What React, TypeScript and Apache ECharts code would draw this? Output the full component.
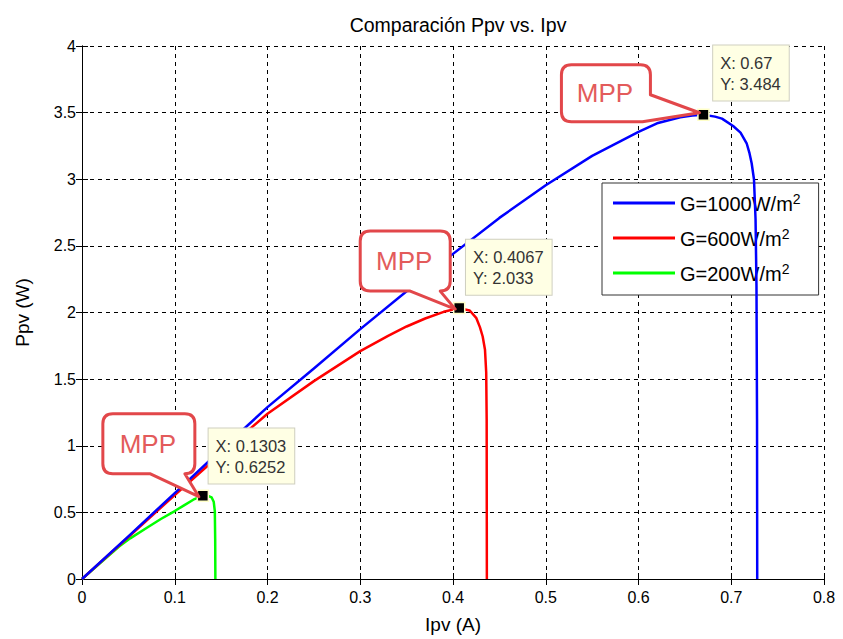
import React, { useEffect, useRef } from "react";
import * as echarts from "echarts";

// ---- data ----
const ipv1000 = [0, 0.05, 0.1, 0.15, 0.2, 0.25, 0.3, 0.35, 0.4, 0.45, 0.5, 0.55, 0.6, 0.62, 0.645, 0.658, 0.67, 0.6825, 0.69, 0.702, 0.71, 0.7166, 0.7195, 0.722, 0.7245, 0.7262, 0.7272, 0.7278, 0.728];
const ppv1000 = [0, 0.32, 0.645, 0.97, 1.29, 1.58, 1.875, 2.16, 2.44, 2.71, 2.955, 3.175, 3.355, 3.42, 3.465, 3.478, 3.484, 3.47, 3.455, 3.4, 3.35, 3.27, 3.2, 3.12, 3.0, 2.7, 2.2, 1.2, 0];

const ipv600 = [0, 0.05, 0.1, 0.15, 0.2, 0.25, 0.3, 0.33, 0.35, 0.37, 0.39, 0.4067, 0.418, 0.425, 0.429, 0.432, 0.4345, 0.4358, 0.4363, 0.4365];
const ppv600 = [0, 0.315, 0.63, 0.94, 1.24, 1.485, 1.71, 1.825, 1.895, 1.955, 2.005, 2.033, 2.015, 1.96, 1.89, 1.82, 1.72, 1.55, 1.2, 0];

const ipv200 = [0, 0.02, 0.04, 0.052, 0.07, 0.085, 0.1, 0.11, 0.12, 0.1303, 0.136, 0.1398, 0.142, 0.1432, 0.1436, 0.1438];
const ppv200 = [0, 0.122, 0.243, 0.305, 0.385, 0.45, 0.51, 0.553, 0.595, 0.6252, 0.623, 0.612, 0.58, 0.51, 0.3, 0];

const seriesNames = ["G=1000W/m2", "G=600W/m2", "G=200W/m2"];
const legendMain = ["G=1000W/m", "G=600W/m", "G=200W/m"];
const mppI = [0.67, 0.4067, 0.1303];
const mppP = [3.484, 2.033, 0.6252];
const mppXText = ["0.67", "0.4067", "0.1303"];
const mppYText = ["3.484", "2.033", "0.6252"];
const calloutText = "MPP";

const FONT = "'Liberation Sans', Arial, Helvetica, sans-serif";
const colors = ["#0000FF", "#FF0000", "#00FF00"];

const zip = (a: number[], b: number[]) => a.map((v, i) => [v, b[i]]);

// datatip offsets (relative to marker box top-left)
const tipPos = [[16, -63], [13, -62], [12, -61]];

export default function App() {
  const ref = useRef<HTMLDivElement>(null);
  useEffect(() => {
    if (!ref.current) return;
    const chart = echarts.init(ref.current, null, { renderer: "svg" });
    const axisCommon = {
      min: 0,
      axisLine: { show: true, lineStyle: { color: "#000", width: 1 } },
      axisTick: { show: true, inside: true, length: 6, lineStyle: { color: "#000" } },
    };
    const dataSets = [zip(ipv1000, ppv1000), zip(ipv600, ppv600), zip(ipv200, ppv200)];
    const series: any[] = dataSets.map((d, i) => ({
      type: "line",
      name: seriesNames[i],
      data: d,
      symbol: "none",
      showSymbol: false,
      lineStyle: { color: colors[i], width: 2.5, join: "round" },
      itemStyle: { color: colors[i] },
      z: 3 + (2 - i),
      markPoint: {
        symbol: "rect",
        symbolSize: 11,
        z: 10,
        itemStyle: { color: "#000", borderColor: "#FFFFC8", borderWidth: 1.5 },
        data: [
          {
            coord: [mppI[i], mppP[i]],
            label: {
              show: true,
              position: tipPos[i],
              formatter: `X: ${mppXText[i]}\nY: ${mppYText[i]}`,
              fontFamily: FONT,
              fontSize: 16.5,
              lineHeight: 21,
              color: "#333",
              align: "left",
              verticalAlign: "top",
              backgroundColor: "#FFFFE4",
              borderColor: "#CFCFC0",
              borderWidth: 1,
              padding: [7, 8, 6, 7],
            },
          },
        ],
      },
    }));

    const option: any = {
      animation: false,
      backgroundColor: "#fff",
      title: {
        text: "Comparación Ppv vs. Ipv",
        left: 453,
        textAlign: "center",
        top: 10,
        textStyle: { fontFamily: FONT, fontSize: 19.5, fontWeight: "normal", color: "#000" },
      },
      grid: { left: 82, right: 19, top: 46, bottom: 58, show: false },
      legend: {
        orient: "vertical",
        left: 602,
        top: 183,
        data: seriesNames,
        icon: "rect",
        itemWidth: 62,
        itemHeight: 3,
        itemGap: 13,
        padding: [9, 18, 11, 11],
        borderColor: "#333",
        borderWidth: 1,
        backgroundColor: "#fff",
        formatter: (name: string) => `{a|${legendMain[seriesNames.indexOf(name)]}}{s|2}`,
        textStyle: {
          fontFamily: FONT,
          color: "#000",
          rich: {
            a: { fontFamily: FONT, fontSize: 20, lineHeight: 22, color: "#000", verticalAlign: "bottom" },
            s: { fontFamily: FONT, fontSize: 14, lineHeight: 14, color: "#000", verticalAlign: "top" },
          },
        },
      },
      xAxis: [
        {
          ...axisCommon,
          type: "value",
          max: 0.8,
          interval: 0.1,
          name: "Ipv (A)",
          nameLocation: "middle",
          nameGap: 36,
          nameTextStyle: { fontFamily: FONT, fontSize: 19, color: "#000" },
          axisLabel: { fontFamily: FONT, fontSize: 16, color: "#000", margin: 10 },
          splitLine: { show: true, lineStyle: { color: "#000", type: [4, 4], width: 1 } },
        },
        {
          ...axisCommon,
          type: "value",
          position: "top",
          max: 0.8,
          interval: 0.1,
          axisLabel: { show: false },
          splitLine: { show: false },
        },
      ],
      yAxis: [
        {
          ...axisCommon,
          type: "value",
          max: 4,
          interval: 0.5,
          name: "Ppv (W)",
          nameLocation: "middle",
          nameGap: 50,
          nameTextStyle: { fontFamily: FONT, fontSize: 19, color: "#000" },
          axisLabel: { fontFamily: FONT, fontSize: 16, color: "#000", margin: 6 },
          splitLine: { show: true, lineStyle: { color: "#000", type: [4, 4], width: 1 } },
        },
        {
          ...axisCommon,
          type: "value",
          position: "right",
          max: 4,
          interval: 0.5,
          axisLabel: { show: false },
          splitLine: { show: false },
        },
      ],
      series,
    };
    chart.setOption(option);

    // callout bubbles positioned from the data points
    const r = 10;
    const graphics: any[] = [];
    mppI.forEach((xv, i) => {
      const p = chart.convertToPixel({ xAxisIndex: 0, yAxisIndex: 0 }, [xv, mppP[i]]) as number[];
      const mx = p[0];
      const my = p[1];
      let d = "";
      let x1: number, x2: number, y1: number, y2: number;
      if (i === 0) {
        x1 = mx - 142; x2 = mx - 53; y1 = my - 50; y2 = my + 7;
        const tip = [mx - 4, my - 2];
        d = `M${x1 + r},${y1} L${x2 - r},${y1} Q${x2},${y1} ${x2},${y1 + r} L${x2},${my - 20} L${tip[0]},${tip[1]} L${x2 - 8},${y2} L${x1 + r},${y2} Q${x1},${y2} ${x1},${y2 - r} L${x1},${y1 + r} Q${x1},${y1} ${x1 + r},${y1} Z`;
      } else {
        const geo = i === 1 ? [-99, -9, -77, -17, -49] : [-100, -8, -82, -22, -53];
        x1 = mx + geo[0]; x2 = mx + geo[1]; y1 = my + geo[2]; y2 = my + geo[3];
        const tip = [mx - 4, my + 1];
        const lb = mx + geo[4];
        d = `M${x1 + r},${y1} L${x2 - r},${y1} Q${x2},${y1} ${x2},${y1 + r} L${x2},${y2 - r} Q${x2},${y2} ${x2 - r},${y2} L${tip[0]},${tip[1]} L${lb},${y2} L${x1 + r},${y2} Q${x1},${y2} ${x1},${y2 - r} L${x1},${y1 + r} Q${x1},${y1} ${x1 + r},${y1} Z`;
      }
      const shapeName = "mppCallout" + i;
      echarts.graphic.registerShape(shapeName, echarts.graphic.extendPath(d, {}) as any);
      graphics.push({
        type: shapeName,
        x: 0,
        y: 0,
        z: 100,
        style: { fill: "#fff", stroke: "#E2474A", lineWidth: 3, lineJoin: "round" },
      });
      graphics.push({
        type: "text",
        x: (x1 + x2) / 2 - 1,
        y: (y1 + y2) / 2,
        z: 101,
        style: {
          text: calloutText,
          fontFamily: FONT,
          fontSize: 26,
          fill: "#E35B5B",
          align: "center",
          verticalAlign: "middle",
        },
      });
    });
    chart.setOption({ graphic: graphics });

    return () => chart.dispose();
  }, []);

  return (
    <div
      ref={ref}
      style={{ position: "fixed", left: 0, top: 0, width: 843, height: 639, background: "#fff" }}
    />
  );
}
